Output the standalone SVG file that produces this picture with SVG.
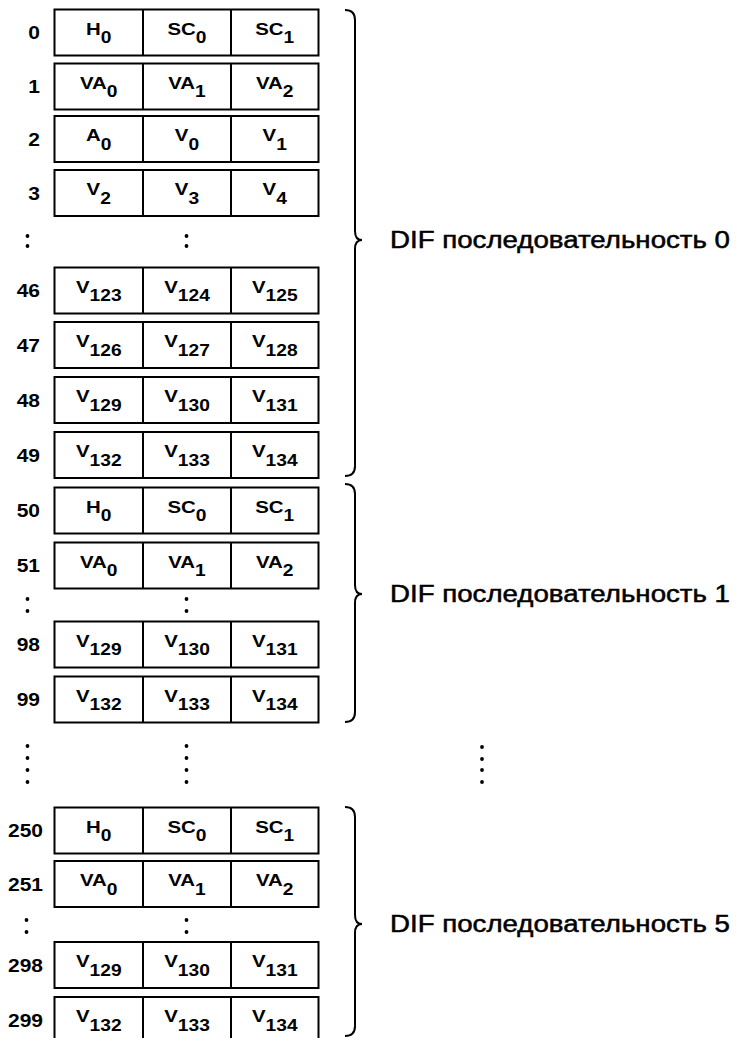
<svg xmlns="http://www.w3.org/2000/svg" width="736" height="1038" viewBox="0 0 736 1038">
<style>
.cell{fill:#fff;stroke:#000;stroke-width:2}
.div{fill:none;stroke:#000;stroke-width:2}
.t{font-family:"Liberation Sans",Arial,sans-serif;font-weight:bold;font-size:17px;fill:#000;text-anchor:middle}
.s{font-size:16px}
.lbl{font-family:"Liberation Sans",Arial,sans-serif;font-weight:bold;font-size:17.5px;fill:#000;text-anchor:end}
.dif{font-family:"Liberation Sans",Arial,sans-serif;font-size:23px;fill:#000;stroke:#000;stroke-width:0.5}
.brace{fill:none;stroke:#000;stroke-width:2}
.dot{fill:#000}
</style>
<rect width="736" height="1038" fill="#fff"/>

<g id="row-0">
<rect class="cell" x="54.5" y="9.5" width="264" height="46"/>
<path class="div" d="M143,9.5V55.5M231,9.5V55.5"/>
<text class="lbl" transform="translate(40,39) scale(1.2,1)">0</text>
<text class="t" transform="translate(98.75,34.5) scale(1.2,1)">H<tspan class="s" dy="8.5">0</tspan></text>
<text class="t" transform="translate(187,34.5) scale(1.2,1)">SC<tspan class="s" dy="8.5">0</tspan></text>
<text class="t" transform="translate(274.75,34.5) scale(1.2,1)">SC<tspan class="s" dy="8.5">1</tspan></text>
</g>
<g id="row-1">
<rect class="cell" x="54.5" y="63.5" width="264" height="46"/>
<path class="div" d="M143,63.5V109.5M231,63.5V109.5"/>
<text class="lbl" transform="translate(40,93) scale(1.2,1)">1</text>
<text class="t" transform="translate(98.75,88.5) scale(1.2,1)">VA<tspan class="s" dy="8.5">0</tspan></text>
<text class="t" transform="translate(187,88.5) scale(1.2,1)">VA<tspan class="s" dy="8.5">1</tspan></text>
<text class="t" transform="translate(274.75,88.5) scale(1.2,1)">VA<tspan class="s" dy="8.5">2</tspan></text>
</g>
<g id="row-2">
<rect class="cell" x="54.5" y="116" width="264" height="46"/>
<path class="div" d="M143,116V162M231,116V162"/>
<text class="lbl" transform="translate(40,145.5) scale(1.2,1)">2</text>
<text class="t" transform="translate(98.75,141) scale(1.2,1)">A<tspan class="s" dy="8.5">0</tspan></text>
<text class="t" transform="translate(187,141) scale(1.2,1)">V<tspan class="s" dy="8.5">0</tspan></text>
<text class="t" transform="translate(274.75,141) scale(1.2,1)">V<tspan class="s" dy="8.5">1</tspan></text>
</g>
<g id="row-3">
<rect class="cell" x="54.5" y="170" width="264" height="46"/>
<path class="div" d="M143,170V216M231,170V216"/>
<text class="lbl" transform="translate(40,199.5) scale(1.2,1)">3</text>
<text class="t" transform="translate(98.75,195) scale(1.2,1)">V<tspan class="s" dy="8.5">2</tspan></text>
<text class="t" transform="translate(187,195) scale(1.2,1)">V<tspan class="s" dy="8.5">3</tspan></text>
<text class="t" transform="translate(274.75,195) scale(1.2,1)">V<tspan class="s" dy="8.5">4</tspan></text>
</g>
<g id="row-46">
<rect class="cell" x="54.5" y="267.5" width="264" height="46"/>
<path class="div" d="M143,267.5V313.5M231,267.5V313.5"/>
<text class="lbl" transform="translate(40,297) scale(1.2,1)">46</text>
<text class="t" transform="translate(98.75,292.5) scale(1.2,1)">V<tspan class="s" dy="8.5">123</tspan></text>
<text class="t" transform="translate(187,292.5) scale(1.2,1)">V<tspan class="s" dy="8.5">124</tspan></text>
<text class="t" transform="translate(274.75,292.5) scale(1.2,1)">V<tspan class="s" dy="8.5">125</tspan></text>
</g>
<g id="row-47">
<rect class="cell" x="54.5" y="322" width="264" height="46"/>
<path class="div" d="M143,322V368M231,322V368"/>
<text class="lbl" transform="translate(40,351.5) scale(1.2,1)">47</text>
<text class="t" transform="translate(98.75,347) scale(1.2,1)">V<tspan class="s" dy="8.5">126</tspan></text>
<text class="t" transform="translate(187,347) scale(1.2,1)">V<tspan class="s" dy="8.5">127</tspan></text>
<text class="t" transform="translate(274.75,347) scale(1.2,1)">V<tspan class="s" dy="8.5">128</tspan></text>
</g>
<g id="row-48">
<rect class="cell" x="54.5" y="377" width="264" height="46"/>
<path class="div" d="M143,377V423M231,377V423"/>
<text class="lbl" transform="translate(40,406.5) scale(1.2,1)">48</text>
<text class="t" transform="translate(98.75,402) scale(1.2,1)">V<tspan class="s" dy="8.5">129</tspan></text>
<text class="t" transform="translate(187,402) scale(1.2,1)">V<tspan class="s" dy="8.5">130</tspan></text>
<text class="t" transform="translate(274.75,402) scale(1.2,1)">V<tspan class="s" dy="8.5">131</tspan></text>
</g>
<g id="row-49">
<rect class="cell" x="54.5" y="432" width="264" height="46"/>
<path class="div" d="M143,432V478M231,432V478"/>
<text class="lbl" transform="translate(40,461.5) scale(1.2,1)">49</text>
<text class="t" transform="translate(98.75,457) scale(1.2,1)">V<tspan class="s" dy="8.5">132</tspan></text>
<text class="t" transform="translate(187,457) scale(1.2,1)">V<tspan class="s" dy="8.5">133</tspan></text>
<text class="t" transform="translate(274.75,457) scale(1.2,1)">V<tspan class="s" dy="8.5">134</tspan></text>
</g>
<g id="row-50">
<rect class="cell" x="54.5" y="487.5" width="264" height="46"/>
<path class="div" d="M143,487.5V533.5M231,487.5V533.5"/>
<text class="lbl" transform="translate(40,517) scale(1.2,1)">50</text>
<text class="t" transform="translate(98.75,512.5) scale(1.2,1)">H<tspan class="s" dy="8.5">0</tspan></text>
<text class="t" transform="translate(187,512.5) scale(1.2,1)">SC<tspan class="s" dy="8.5">0</tspan></text>
<text class="t" transform="translate(274.75,512.5) scale(1.2,1)">SC<tspan class="s" dy="8.5">1</tspan></text>
</g>
<g id="row-51">
<rect class="cell" x="54.5" y="542.5" width="264" height="46"/>
<path class="div" d="M143,542.5V588.5M231,542.5V588.5"/>
<text class="lbl" transform="translate(40,572) scale(1.2,1)">51</text>
<text class="t" transform="translate(98.75,567.5) scale(1.2,1)">VA<tspan class="s" dy="8.5">0</tspan></text>
<text class="t" transform="translate(187,567.5) scale(1.2,1)">VA<tspan class="s" dy="8.5">1</tspan></text>
<text class="t" transform="translate(274.75,567.5) scale(1.2,1)">VA<tspan class="s" dy="8.5">2</tspan></text>
</g>
<g id="row-98">
<rect class="cell" x="54.5" y="621.5" width="264" height="46"/>
<path class="div" d="M143,621.5V667.5M231,621.5V667.5"/>
<text class="lbl" transform="translate(40,651) scale(1.2,1)">98</text>
<text class="t" transform="translate(98.75,646.5) scale(1.2,1)">V<tspan class="s" dy="8.5">129</tspan></text>
<text class="t" transform="translate(187,646.5) scale(1.2,1)">V<tspan class="s" dy="8.5">130</tspan></text>
<text class="t" transform="translate(274.75,646.5) scale(1.2,1)">V<tspan class="s" dy="8.5">131</tspan></text>
</g>
<g id="row-99">
<rect class="cell" x="54.5" y="676.5" width="264" height="46"/>
<path class="div" d="M143,676.5V722.5M231,676.5V722.5"/>
<text class="lbl" transform="translate(40,706) scale(1.2,1)">99</text>
<text class="t" transform="translate(98.75,701.5) scale(1.2,1)">V<tspan class="s" dy="8.5">132</tspan></text>
<text class="t" transform="translate(187,701.5) scale(1.2,1)">V<tspan class="s" dy="8.5">133</tspan></text>
<text class="t" transform="translate(274.75,701.5) scale(1.2,1)">V<tspan class="s" dy="8.5">134</tspan></text>
</g>
<g id="row-250">
<rect class="cell" x="54.5" y="807.5" width="264" height="46"/>
<path class="div" d="M143,807.5V853.5M231,807.5V853.5"/>
<text class="lbl" transform="translate(43,837) scale(1.2,1)">250</text>
<text class="t" transform="translate(98.75,832.5) scale(1.2,1)">H<tspan class="s" dy="8.5">0</tspan></text>
<text class="t" transform="translate(187,832.5) scale(1.2,1)">SC<tspan class="s" dy="8.5">0</tspan></text>
<text class="t" transform="translate(274.75,832.5) scale(1.2,1)">SC<tspan class="s" dy="8.5">1</tspan></text>
</g>
<g id="row-251">
<rect class="cell" x="54.5" y="861" width="264" height="46"/>
<path class="div" d="M143,861V907M231,861V907"/>
<text class="lbl" transform="translate(43,890.5) scale(1.2,1)">251</text>
<text class="t" transform="translate(98.75,886) scale(1.2,1)">VA<tspan class="s" dy="8.5">0</tspan></text>
<text class="t" transform="translate(187,886) scale(1.2,1)">VA<tspan class="s" dy="8.5">1</tspan></text>
<text class="t" transform="translate(274.75,886) scale(1.2,1)">VA<tspan class="s" dy="8.5">2</tspan></text>
</g>
<g id="row-298">
<rect class="cell" x="54.5" y="942" width="264" height="46"/>
<path class="div" d="M143,942V988M231,942V988"/>
<text class="lbl" transform="translate(43,971.5) scale(1.2,1)">298</text>
<text class="t" transform="translate(98.75,967) scale(1.2,1)">V<tspan class="s" dy="8.5">129</tspan></text>
<text class="t" transform="translate(187,967) scale(1.2,1)">V<tspan class="s" dy="8.5">130</tspan></text>
<text class="t" transform="translate(274.75,967) scale(1.2,1)">V<tspan class="s" dy="8.5">131</tspan></text>
</g>
<g id="row-299">
<rect class="cell" x="54.5" y="997" width="264" height="46"/>
<path class="div" d="M143,997V1043M231,997V1043"/>
<text class="lbl" transform="translate(43,1026.5) scale(1.2,1)">299</text>
<text class="t" transform="translate(98.75,1022) scale(1.2,1)">V<tspan class="s" dy="8.5">132</tspan></text>
<text class="t" transform="translate(187,1022) scale(1.2,1)">V<tspan class="s" dy="8.5">133</tspan></text>
<text class="t" transform="translate(274.75,1022) scale(1.2,1)">V<tspan class="s" dy="8.5">134</tspan></text>
</g>

<g id="ellipses">
<circle class="dot" cx="27.5" cy="236" r="1.9"/><circle class="dot" cx="27.5" cy="246" r="1.9"/>
<circle class="dot" cx="186.5" cy="236" r="1.9"/><circle class="dot" cx="186.5" cy="246" r="1.9"/>
<circle class="dot" cx="27.5" cy="599" r="1.9"/><circle class="dot" cx="27.5" cy="611" r="1.9"/>
<circle class="dot" cx="186.5" cy="599" r="1.9"/><circle class="dot" cx="186.5" cy="611" r="1.9"/>
<circle class="dot" cx="26.5" cy="920" r="1.9"/><circle class="dot" cx="26.5" cy="932" r="1.9"/>
<circle class="dot" cx="186.5" cy="920" r="1.9"/><circle class="dot" cx="186.5" cy="932" r="1.9"/>
<circle class="dot" cx="27.5" cy="746" r="1.9"/><circle class="dot" cx="27.5" cy="758" r="1.9"/><circle class="dot" cx="27.5" cy="770" r="1.9"/><circle class="dot" cx="27.5" cy="782" r="1.9"/>
<circle class="dot" cx="186.5" cy="746" r="1.9"/><circle class="dot" cx="186.5" cy="758" r="1.9"/><circle class="dot" cx="186.5" cy="770" r="1.9"/><circle class="dot" cx="186.5" cy="782" r="1.9"/>
<circle class="dot" cx="482" cy="747" r="1.9"/><circle class="dot" cx="482" cy="759" r="1.9"/><circle class="dot" cx="482" cy="770" r="1.9"/><circle class="dot" cx="482" cy="782" r="1.9"/>
</g>

<g id="braces">
<path class="brace" d="M345,10 Q355,10 355,20 L355,231 Q355,240 362,240 Q355,240 355,249 L355,466 Q355,476 345,476"/>
<path class="brace" d="M345,484 Q355,484 355,494 L355,585 Q355,594 362,594 Q355,594 355,603 L355,712 Q355,722 345,722"/>
<path class="brace" d="M345,807 Q355,807 355,817 L355,915 Q355,924 362,924 Q355,924 355,933 L355,1026 Q355,1036 345,1036"/>
</g>

<g id="labels">
<text class="dif" x="390" y="248" textLength="340" lengthAdjust="spacingAndGlyphs">DIF последовательность 0</text>
<text class="dif" x="390" y="602" textLength="340" lengthAdjust="spacingAndGlyphs">DIF последовательность 1</text>
<text class="dif" x="390" y="932" textLength="340" lengthAdjust="spacingAndGlyphs">DIF последовательность 5</text>
</g>
</svg>
